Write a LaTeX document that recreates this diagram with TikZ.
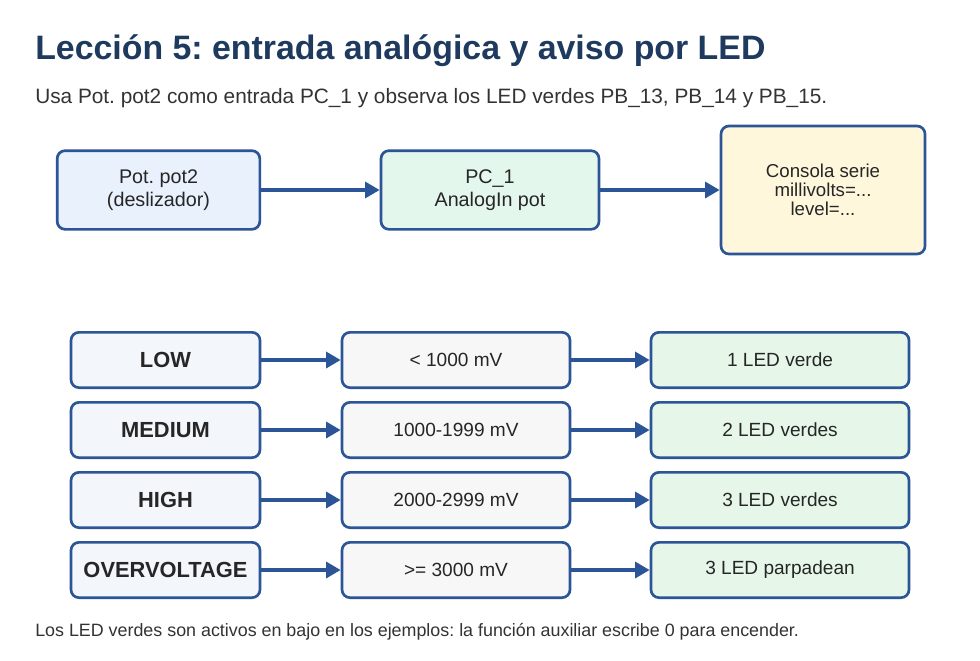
\documentclass[tikz,border=0pt]{standalone}
\usepackage{fontspec}
\setmainfont{Liberation Sans}
\usetikzlibrary{arrows.meta}
\frenchspacing
\definecolor{navy}{HTML}{1F3A5F}
\definecolor{edge}{HTML}{2C5597}
\definecolor{txt}{HTML}{333333}
\definecolor{fblue}{HTML}{E8F1FC}
\definecolor{fgreen}{HTML}{E4F7EC}
\definecolor{fyellow}{HTML}{FFF7DC}
\definecolor{fpale}{HTML}{F3F7FC}
\definecolor{fgray}{HTML}{F7F7F7}
\definecolor{fled}{HTML}{E6F7EA}
\tikzset{
  box/.style={draw=edge, line width=2pt, rounded corners=6pt, align=center, text=black!85, inner sep=0pt},
  conn/.style={draw=edge, line width=2.6pt, -{Triangle[length=11pt,width=12pt]}},
}
\begin{document}
\begin{tikzpicture}[x=0.75pt,y=-0.75pt]
\useasboundingbox (0,0) rectangle (980,660);
\fill[white] (0,0) rectangle (980,660);
\node[anchor=base west, inner sep=0pt, text=navy, font=\bfseries\fontsize{25.4}{30}\selectfont] (title) at (35,60) {Lección 5: entrada analógica y aviso por LED};
\node[anchor=base west, inner sep=0pt, text=txt, font=\fontsize{15.6}{18}\selectfont] (sub) at (35,103) {Usa Pot. pot2 como entrada PC\_1 y observa los LED verdes PB\_13, PB\_14 y PB\_15.};

\def\topfont{\fontsize{14.8}{17.2}\selectfont}
\node[box, fill=fblue, minimum width=152pt, minimum height=59pt, font=\topfont] (pot) at (158.5,190) {Pot. pot2\\(deslizador)};
\node[box, fill=fgreen, minimum width=163.5pt, minimum height=59pt, font=\topfont] (pc) at (490,190) {PC\_1\\AnalogIn pot};
\node[box, fill=fyellow, minimum width=153pt, minimum height=96pt, font=\fontsize{14}{14.3}\selectfont] (con) at (823,190) {Consola serie\\millivolts=...\\level=...};
\draw[conn] (pot.east) -- (pc.west);
\draw[conn] (pc.east) -- (con.west);

\def\rowfont{\fontsize{14.3}{17}\selectfont}
\foreach \y/\lvl/\rng/\led/\n in {360/LOW/{< 1000 mV}/{1 LED verde}/a,
                                  430/MEDIUM/{1000-1999 mV}/{2 LED verdes}/b,
                                  500/HIGH/{2000-2999 mV}/{3 LED verdes}/c,
                                  570/OVERVOLTAGE/{>= 3000 mV}/{3 LED parpadean}/d}{
  \node[box, fill=fpale, minimum width=141.75pt, minimum height=41.5pt, font=\bfseries\fontsize{16.4}{19}\selectfont] (l\n) at (165.5,\y) {\lvl};
  \node[box, fill=fgray, minimum width=171pt, minimum height=41.5pt, font=\rowfont] (r\n) at (456,\y) {\rng};
  \node[box, fill=fled, minimum width=193.5pt, minimum height=41.5pt, font=\rowfont] (e\n) at (780,\y) {\led};
  \draw[conn] (l\n.east) -- (r\n.west);
  \draw[conn] (r\n.east) -- (e\n.west);
}
\node[anchor=base west, inner sep=0pt, text=txt, font=\fontsize{13.4}{16}\selectfont] (foot) at (35,636) {Los LED verdes son activos en bajo en los ejemplos: la función auxiliar escribe 0 para encender.};
\end{tikzpicture}
\end{document}
